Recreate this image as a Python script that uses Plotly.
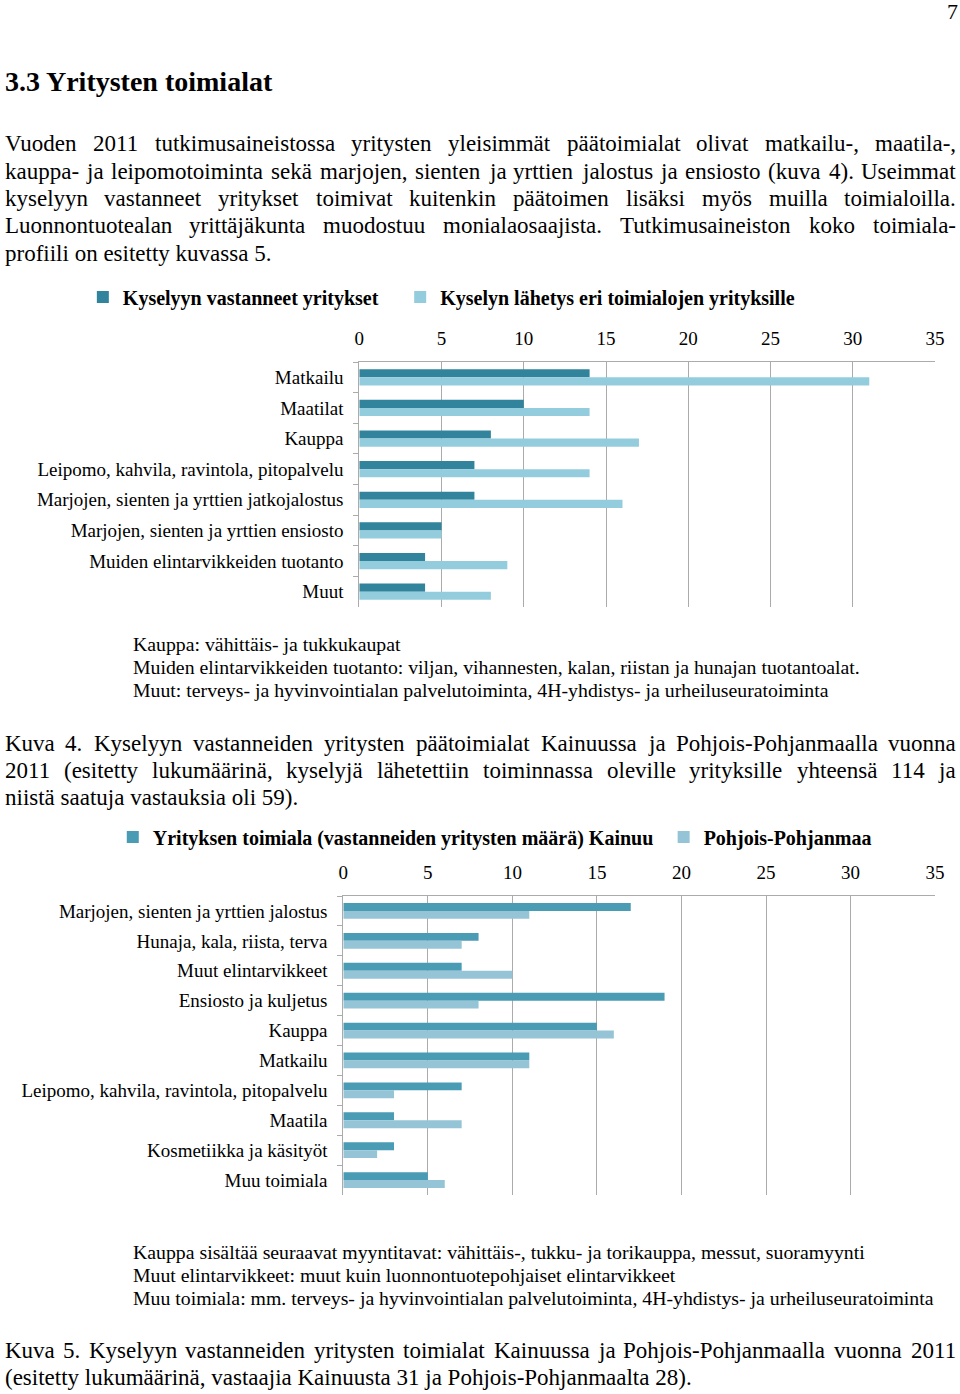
import plotly.graph_objects as go

W, H = 960, 1394
SERIF = "Liberation Serif"

# ---------------- data ----------------
cats1 = ["Matkailu", "Maatilat", "Kauppa", "Leipomo, kahvila, ravintola, pitopalvelu",
         "Marjojen, sienten ja yrttien jatkojalostus", "Marjojen, sienten ja yrttien ensiosto",
         "Muiden elintarvikkeiden tuotanto", "Muut"]
vastanneet = [14, 10, 8, 7, 7, 5, 4, 4]
lahetys = [31, 14, 17, 14, 16, 5, 9, 8]
series1_names = ["Kyselyyn vastanneet yritykset", "Kyselyn lähetys eri toimialojen yrityksille"]

cats2 = ["Marjojen, sienten ja yrttien jalostus", "Hunaja, kala, riista, terva", "Muut elintarvikkeet",
         "Ensiosto ja kuljetus", "Kauppa", "Matkailu", "Leipomo, kahvila, ravintola, pitopalvelu",
         "Maatila", "Kosmetiikka ja käsityöt", "Muu toimiala"]
kainuu = [17, 8, 7, 19, 15, 11, 7, 3, 3, 5]
pohjois = [11, 7, 10, 8, 16, 11, 3, 7, 2, 6]
series2_names = ["Yrityksen toimiala (vastanneiden yritysten määrä) Kainuu", "Pohjois-Pohjanmaa"]

xticks = [0, 5, 10, 15, 20, 25, 30, 35]

heading = "3.3 Yritysten toimialat"
para_lines = [
    "Vuoden 2011 tutkimusaineistossa yritysten yleisimmät päätoimialat olivat matkailu-, maatila-,",
    "kauppa- ja leipomotoiminta sekä marjojen, sienten ja yrttien jalostus ja ensiosto (kuva 4). Useimmat",
    "kyselyyn vastanneet yritykset toimivat kuitenkin päätoimen lisäksi myös muilla toimialoilla.",
    "Luonnontuotealan yrittäjäkunta muodostuu monialaosaajista. Tutkimusaineiston koko toimiala-",
    "profiili on esitetty kuvassa 5.",
]
notes1 = ["Kauppa: vähittäis- ja tukkukaupat",
          "Muiden elintarvikkeiden tuotanto: viljan, vihannesten, kalan, riistan ja hunajan tuotantoalat.",
          "Muut: terveys- ja hyvinvointialan palvelutoiminta, 4H-yhdistys- ja urheiluseuratoiminta"]
cap4 = ["Kuva 4. Kyselyyn vastanneiden yritysten päätoimialat Kainuussa ja Pohjois-Pohjanmaalla vuonna",
        "2011 (esitetty lukumäärinä, kyselyjä lähetettiin toiminnassa oleville yrityksille yhteensä 114 ja",
        "niistä saatuja vastauksia oli 59)."]
notes2 = ["Kauppa sisältää seuraavat myyntitavat: vähittäis-, tukku- ja torikauppa, messut, suoramyynti",
          "Muut elintarvikkeet: muut kuin luonnontuotepohjaiset elintarvikkeet",
          "Muu toimiala: mm. terveys- ja hyvinvointialan palvelutoiminta, 4H-yhdistys- ja urheiluseuratoiminta"]
cap5 = ["Kuva 5. Kyselyyn vastanneiden yritysten toimialat Kainuussa ja Pohjois-Pohjanmaalla vuonna 2011",
        "(esitetty lukumäärinä, vastaajia Kainuusta 31 ja Pohjois-Pohjanmaalta 28)."]

# ---------------- helpers ----------------
# horizontal calibration of the rendered page (observed: x_rendered ~ A*x + B)
A_X, B_X = 0.9864, 4.0


def px(x):
    return max(0.0, (x - B_X) / A_X) / W


def py(y):
    return 1 - y / H


TW = {" ": 250, ",": 250, ".": 250, "-": 333, "(": 333, ")": 333, ":": 278}
for c, v in zip("abcdefghijklmnopqrstuvwxyz",
                [444, 500, 444, 500, 444, 333, 500, 500, 278, 278, 500, 278, 778, 500, 500, 500, 500, 333,
                 389, 278, 500, 500, 722, 500, 500, 444]):
    TW[c] = v
for c, v in zip("ABCDEFGHIJKLMNOPQRSTUVWXYZ",
                [722, 667, 667, 722, 611, 556, 722, 722, 333, 389, 722, 611, 889, 722, 722, 556, 722, 667,
                 556, 611, 722, 722, 944, 722, 722, 611]):
    TW[c] = v
TW["ä"] = 444
TW["ö"] = 500
for d in "0123456789":
    TW[d] = 500


def text_w(s, size):
    return sum(TW.get(c, 500) for c in s) * size / 1000.0


annotations = []


def add_text(s, x, y, size, anchor="left", bold=False):
    annotations.append(dict(
        text=f"<b>{s}</b>" if bold else s, x=px(x), y=py(y), xref="paper", yref="paper",
        xanchor=anchor, yanchor="middle", showarrow=False, borderpad=0, borderwidth=0,
        font=dict(family=SERIF, size=size, color="black")))


def justify(line, y, size, x0=3, x1=957):
    words = line.split(" ")
    ws = [text_w(w, size) for w in words]
    gap = (x1 - x0 - sum(ws)) / (len(words) - 1)
    x = x0
    for i, w in enumerate(words):
        if i == len(words) - 1:
            add_text(w, x1, y, size, anchor="right")
        else:
            add_text(w, x, y, size)
        x += ws[i] + gap


PS = 23
NS = 19.8
add_text("7", 959, 11, 22, anchor="right")
add_text(heading, 3, 81, 28, bold=True)
for i, (ln, yy) in enumerate(zip(para_lines, [144, 171, 198, 226, 253])):
    if i < len(para_lines) - 1:
        justify(ln, yy, PS)
    else:
        add_text(ln, 3, yy, PS)
for ln, yy in zip(notes1, [644, 667, 690]):
    add_text(ln, 132, yy, NS)
for i, (ln, yy) in enumerate(zip(cap4, [743, 770, 797])):
    if i < len(cap4) - 1:
        justify(ln, yy, PS)
    else:
        add_text(ln, 3, yy, PS)
for ln, yy in zip(notes2, [1252, 1275, 1298]):
    add_text(ln, 132, yy, NS)
for i, (ln, yy) in enumerate(zip(cap5, [1350, 1377])):
    if i < len(cap5) - 1:
        justify(ln, yy, PS)
    else:
        add_text(ln, 3, yy, PS)

# ---------------- figure ----------------
fig = go.Figure()
C1D, C1L = "#31849B", "#93CDDD"
C2D, C2L = "#4A9BB4", "#95C4D6"

fig.add_trace(go.Bar(y=cats1, x=vastanneet, orientation="h", name=f"<b>{series1_names[0]}</b>",
                     marker=dict(color=C1D, line=dict(width=0)), xaxis="x", yaxis="y", legend="legend"))
fig.add_trace(go.Bar(y=cats1, x=lahetys, orientation="h", name=f"<b>{series1_names[1]}</b>",
                     marker=dict(color=C1L, line=dict(width=0)), xaxis="x", yaxis="y", legend="legend2"))
fig.add_trace(go.Bar(y=cats2, x=kainuu, orientation="h", name=f"<b>{series2_names[0]}</b>",
                     marker=dict(color=C2D, line=dict(width=0)), xaxis="x2", yaxis="y2", legend="legend3"))
fig.add_trace(go.Bar(y=cats2, x=pohjois, orientation="h", name=f"<b>{series2_names[1]}</b>",
                     marker=dict(color=C2L, line=dict(width=0)), xaxis="x2", yaxis="y2", legend="legend4"))

GRID = "#ABABAB"
tickfont = dict(family=SERIF, size=19, color="black")


def xaxis_cfg(x0, x1, anchor):
    return dict(domain=[px(x0), px(x1)], range=[0, 35], tickvals=xticks, side="top", anchor=anchor,
                showgrid=True, gridcolor=GRID, gridwidth=1, showline=True, linecolor=GRID, linewidth=1,
                zeroline=False, ticks="", tickfont=tickfont, ticklabelstandoff=8, fixedrange=True)


def yaxis_cfg(y0, y1, anchor):
    return dict(domain=[py(y1), py(y0)], autorange="reversed", type="category", anchor=anchor,
                showline=True, linecolor=GRID, linewidth=1, ticks="outside", tickson="boundaries",
                ticklen=5, tickcolor=GRID, showgrid=False, tickfont=tickfont, ticklabelstandoff=11,
                fixedrange=True)


legend_base = dict(orientation="h", yanchor="middle", xanchor="left", bgcolor="rgba(0,0,0,0)",
                   font=dict(family=SERIF, size=20, color="black"), itemwidth=30, borderwidth=0)

fig.update_layout(
    width=W, height=H, margin=dict(l=0, r=0, t=0, b=0),
    paper_bgcolor="white", plot_bgcolor="white",
    barmode="group", bargap=0.47, bargroupgap=0,
    xaxis=xaxis_cfg(359, 936, "y"),
    yaxis=yaxis_cfg(362, 607, "x"),
    xaxis2=xaxis_cfg(343, 936, "y2"),
    yaxis2=yaxis_cfg(896, 1195, "x2"),
    legend=dict(legend_base, x=px(82), y=py(297)),
    legend2=dict(legend_base, x=px(400), y=py(297)),
    legend3=dict(legend_base, x=px(112), y=py(837)),
    legend4=dict(legend_base, x=px(664), y=py(837)),
    annotations=annotations,
    showlegend=True,
)

fig.write_html("out.html")
